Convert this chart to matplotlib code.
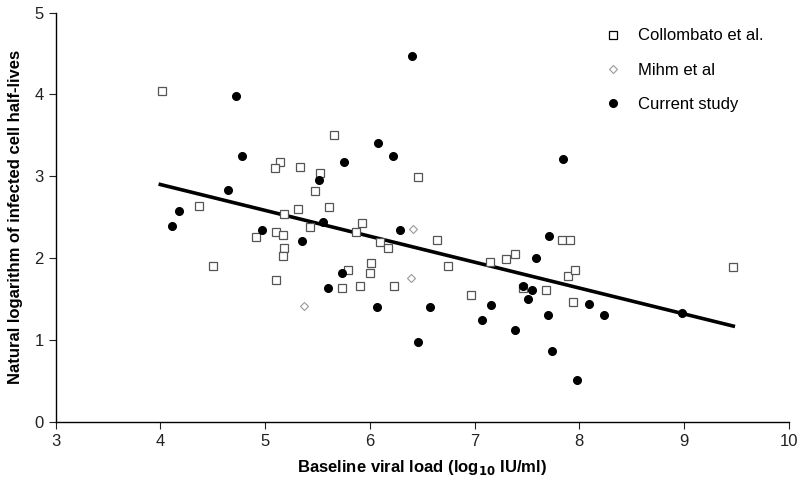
import matplotlib
matplotlib.use("Agg")
import matplotlib.pyplot as plt

plt.rcParams['font.family'] = ['Liberation Sans', 'DejaVu Sans']

# Collombato et al.
coll_x = [4.02, 5.66, 5.14, 5.09, 5.33, 5.52, 5.48, 4.37, 5.18, 5.31, 5.61, 5.43,
          5.93, 5.87, 6.10, 4.91, 5.10, 5.17, 5.18, 5.17, 4.50, 5.10, 5.79, 5.73,
          5.91, 6.01, 6.00, 6.17, 6.23, 6.64, 6.75, 6.97, 7.15, 7.30, 7.39, 7.46,
          7.68, 7.83, 7.91, 7.89, 7.96, 7.94, 6.46, 9.47]
coll_y = [4.04, 3.51, 3.17, 3.10, 3.11, 3.04, 2.82, 2.64, 2.54, 2.60, 2.62, 2.38,
          2.43, 2.32, 2.20, 2.26, 2.32, 2.28, 2.13, 2.03, 1.91, 1.73, 1.86, 1.63,
          1.66, 1.94, 1.82, 2.12, 1.66, 2.22, 1.91, 1.55, 1.95, 1.99, 2.05, 1.63,
          1.61, 2.22, 2.22, 1.78, 1.86, 1.47, 2.99, 1.89]

# Mihm et al
mihm_x = [5.37, 6.41, 6.39]
mihm_y = [1.41, 2.36, 1.76]

# Current study
cur_x = [4.72, 4.78, 5.75, 5.51, 6.08, 4.65, 4.18, 4.11, 4.97, 5.35, 5.55, 5.73,
         5.60, 6.07, 6.40, 6.22, 7.84, 6.29, 6.57, 6.46, 7.07, 7.16, 7.39, 7.46,
         7.55, 7.51, 7.59, 7.71, 7.70, 7.74, 7.98, 8.09, 8.24, 8.98]
cur_y = [3.98, 3.25, 3.17, 2.96, 3.41, 2.83, 2.58, 2.39, 2.34, 2.21, 2.44, 1.82,
         1.64, 1.40, 4.47, 3.25, 3.21, 2.34, 1.40, 0.97, 1.25, 1.43, 1.12, 1.66,
         1.61, 1.50, 2.00, 2.27, 1.31, 0.86, 0.51, 1.44, 1.30, 1.33]

# regression line
fit_x = [4.0, 9.47]
fit_y = [2.90, 1.17]

fig = plt.figure(figsize=(8, 4.86), dpi=100)
ax = fig.add_axes([0.0695, 0.132, 0.9165, 0.842])

ax.plot(fit_x, fit_y, color="black", lw=2.6, zorder=2)
ax.plot(coll_x, coll_y, ls="none", marker="s", ms=6, mfc="white", mec="#555555",
        mew=0.9, label="Collombato et al.", zorder=3)
ax.plot(mihm_x, mihm_y, ls="none", marker="D", ms=4.5, mfc="white", mec="#999999",
        mew=0.8, label="Mihm et al", zorder=3)
ax.plot(cur_x, cur_y, ls="none", marker="o", ms=5.5, color="black",
        label="Current study", zorder=4)

ax.set_xlim(3, 10)
ax.set_ylim(0, 5)
ax.set_xticks(range(3, 11))
ax.set_yticks(range(0, 6))
for s in ["top", "right"]:
    ax.spines[s].set_visible(False)
for s in ["left", "bottom"]:
    ax.spines[s].set_linewidth(1.0)
ax.tick_params(direction="out", length=5, width=0.8, labelsize=12, colors="#222222")
ax.tick_params(axis="x", pad=4)

ax.set_xlabel("Baseline viral load (log$_{\\mathbf{10}}$ IU/ml)", fontsize=12,
              fontweight="bold", labelpad=6)
ax.set_ylabel("Natural logarithm of infected cell half-lives", fontsize=12,
              fontweight="bold", labelpad=8)

leg = ax.legend(loc="upper left", bbox_to_anchor=(0.733, 0.99), frameon=False,
                fontsize=12, handlelength=1.0, handletextpad=1.0, labelspacing=1.15,
                borderaxespad=0.3)
leg.legend_handles[0].set_markeredgecolor("black")

fig.savefig("out.png", dpi=100)
